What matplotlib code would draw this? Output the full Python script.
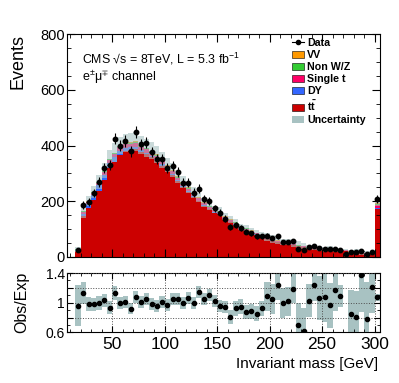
import numpy as np
import matplotlib
matplotlib.use("Agg")
import matplotlib.pyplot as plt
from matplotlib.patches import Patch
from matplotlib.lines import Line2D
from matplotlib.ticker import MultipleLocator, FixedLocator, FixedFormatter

plt.rcParams["font.family"] = ["Liberation Sans", "DejaVu Sans"]
plt.rcParams["mathtext.fontset"] = "custom"
plt.rcParams["mathtext.rm"] = "Liberation Sans"
plt.rcParams["mathtext.it"] = "Liberation Sans:italic"
plt.rcParams["mathtext.bf"] = "Liberation Sans:bold"
plt.rcParams["mathtext.default"] = "regular"

# 5 GeV bins from 15 to 305 GeV (last bin holds the overflow)
bin_edges = np.arange(15, 306, 5)

data = [26, 187, 197, 229, 269, 320, 329, 425, 399, 416,
        380, 449, 405, 410, 377, 352, 350, 321, 326, 304,
        267, 266, 231, 245, 207, 202, 175, 158, 138, 109,
        116, 103, 91, 85, 74, 74, 77, 68, 74, 55,
        55, 56, 30, 25, 37, 41, 32, 30, 28, 28,
        24, 12, 17, 17, 22, 11, 17, 207]

ttbar = [23, 146, 175, 205, 237, 276, 318, 342, 367, 379,
         383, 387, 376, 368, 359, 347, 328, 311, 294, 272,
         252, 234, 217, 200, 184, 171, 159, 156, 136, 125,
         116, 101, 96, 89, 80, 73, 64, 59, 54, 49,
         49, 42, 38, 36, 32, 29, 26, 25, 26, 21,
         19, 22, 17, 18, 14, 12, 12, 173]

dy = [2, 10, 15, 18, 20, 20, 19, 17, 15, 13,
      11, 9, 7, 6, 5, 4, 4, 3, 3, 3,
      2, 2, 2, 2, 2, 2, 1, 1, 1, 1,
      1, 1, 1, 1, 1, 1, 1, 1, 1, 1,
      0, 0, 0, 0, 0, 0, 0, 0, 0, 0,
      0, 0, 0, 0, 0, 0, 0, 2]

single_top = [1, 5, 6, 7, 8, 9, 10, 11, 12, 12,
              12, 13, 13, 12, 12, 12, 11, 11, 10, 10,
              9, 9, 8, 8, 7, 7, 7, 6, 6, 6,
              5, 5, 5, 4, 4, 4, 4, 3, 3, 3,
              3, 3, 3, 2, 2, 2, 2, 2, 2, 2,
              2, 2, 2, 2, 1, 1, 1, 12]

non_wz = [1, 3, 3, 3, 4, 4, 4, 4, 4, 4,
          4, 4, 4, 4, 4, 3, 3, 3, 3, 3,
          3, 3, 2, 2, 2, 2, 2, 2, 2, 2,
          2, 1, 1, 1, 1, 1, 1, 1, 1, 1,
          1, 1, 1, 1, 1, 1, 1, 0, 0, 0,
          0, 0, 0, 0, 0, 0, 0, 3]

diboson = [0, 1, 1, 1, 1, 1, 1, 1, 2, 2,
           2, 2, 2, 2, 2, 2, 2, 2, 2, 2,
           2, 2, 2, 2, 1, 1, 1, 1, 1, 1,
           1, 1, 1, 1, 1, 1, 1, 1, 1, 1,
           1, 1, 1, 1, 1, 1, 1, 1, 1, 1,
           1, 1, 1, 1, 1, 1, 1, 3]

# relative uncertainty on the expectation
rel_unc = [0.28, 0.15, 0.09, 0.09, 0.09, 0.09, 0.09, 0.09, 0.08, 0.08,
           0.08, 0.08, 0.08, 0.08, 0.08, 0.08, 0.08, 0.08, 0.08, 0.08,
           0.08, 0.08, 0.08, 0.08, 0.08, 0.08, 0.08, 0.08, 0.08, 0.10,
           0.10, 0.10, 0.10, 0.10, 0.10, 0.10, 0.20, 0.20, 0.20, 0.20,
           0.20, 0.20, 0.30, 0.30, 0.22, 0.22, 0.30, 0.33, 0.30, 0.28,
           0.15, 0.10, 0.32, 0.35, 0.50, 0.50, 0.35, 0.05]

colors = {"tt": "#cc0000", "DY": "#3366ff", "st": "#ff0066",
          "nwz": "#33cc33", "vv": "#ff9900", "unc": "#a8c2c2"}

centers = 0.5 * (bin_edges[:-1] + bin_edges[1:])
data = np.array(data, dtype=float)
rel_unc = np.array(rel_unc)

fig = plt.figure(figsize=(3.99, 3.83), dpi=100)
ax = fig.add_axes([0.168, 0.329, 0.784, 0.582])
rax = fig.add_axes([0.168, 0.132, 0.784, 0.155])

# stacked expectation
bottom = np.zeros(len(centers))
for vals, c in [(ttbar, colors["tt"]), (dy, colors["DY"]), (single_top, colors["st"]),
                (non_wz, colors["nwz"]), (diboson, colors["vv"])]:
    top = bottom + np.array(vals)
    ax.stairs(top, bin_edges, baseline=bottom, fill=True, color=c, lw=0)
    bottom = top
total = bottom

ax.stairs(total * (1 + rel_unc), bin_edges, baseline=total * (1 - rel_unc),
          fill=True, color=colors["unc"], alpha=0.6, lw=0)

ax.errorbar(centers, data, yerr=np.sqrt(data), xerr=2.0, fmt="o", color="k",
            ms=3.2, lw=0.8, capsize=0, zorder=5)

ax.set_xlim(7, 305)
ax.set_ylim(0, 800)
ax.xaxis.set_major_locator(MultipleLocator(50))
ax.xaxis.set_minor_locator(MultipleLocator(10))
ax.yaxis.set_major_locator(MultipleLocator(200))
ax.yaxis.set_minor_locator(MultipleLocator(50))
ax.tick_params(which="both", direction="in", top=True, right=True,
               labelbottom=False, labelsize=10.5, pad=1.5)
ax.tick_params(which="major", length=6)
ax.tick_params(which="minor", length=3)
ax.set_ylabel("Events", fontsize=13, loc="top")
ax.yaxis.set_label_coords(-0.13, 1.0)

ax.text(0.049, 0.888, r"CMS √s = 8TeV, L = 5.3 fb$^{-1}$", transform=ax.transAxes,
        fontsize=8.9, va="center")
ax.text(0.049, 0.807, r"e$^{\pm}$$\mu^{\mp}$ channel", transform=ax.transAxes,
        fontsize=9, va="center")

handles = [
    Line2D([], [], color="k", marker="o", ms=3, lw=0.8),
    Patch(facecolor=colors["vv"], edgecolor="k", lw=0.4),
    Patch(facecolor=colors["nwz"], edgecolor="k", lw=0.4),
    Patch(facecolor=colors["st"], edgecolor="k", lw=0.4),
    Patch(facecolor=colors["DY"], edgecolor="k", lw=0.4),
    Patch(facecolor=colors["tt"], edgecolor="k", lw=0.4),
    Patch(facecolor=colors["unc"], edgecolor="none"),
]
labels = ["Data", "VV", "Non W/Z", "Single t", "DY", r"$\mathbf{t\bar{t}}$", "Uncertainty"]
ax.legend(handles, labels, loc="upper left", bbox_to_anchor=(0.72, 0.983),
          frameon=False, prop={"size": 7.7, "weight": "bold"}, handlelength=1.1,
          handleheight=0.6, handletextpad=0.3, labelspacing=0.2,
          borderpad=0, borderaxespad=0)

# ratio panel
ratio = data / total
rax.stairs(ratio + rel_unc, bin_edges, baseline=ratio - rel_unc, fill=True,
           color=colors["unc"], lw=0)
rax.plot(centers, ratio, "o", color="k", ms=3, zorder=5)
rax.set_xlim(7, 305)
rax.set_ylim(0.6, 1.4)
rax.xaxis.set_major_locator(MultipleLocator(50))
rax.xaxis.set_minor_locator(MultipleLocator(10))
rax.yaxis.set_major_locator(FixedLocator([0.6, 0.8, 1.0, 1.2, 1.4]))
rax.yaxis.set_major_formatter(FixedFormatter(["0.6", "", "1", "", "1.4"]))
rax.yaxis.set_minor_locator(MultipleLocator(0.1))
rax.grid(True, which="major", linestyle=":", color="0.3", lw=0.7)
rax.set_axisbelow(False)
rax.tick_params(which="both", direction="in", top=True, right=True, pad=1.5)
rax.tick_params(axis="y", labelsize=10)
rax.tick_params(axis="x", labelsize=12.5, pad=3)
rax.tick_params(which="major", length=4)
rax.tick_params(which="minor", length=2)
rax.set_ylabel("Obs/Exp", fontsize=11.5)
rax.yaxis.set_label_coords(-0.12, 0.5)
rax.set_xlabel("Invariant mass [GeV]", fontsize=11, loc="right")
rax.xaxis.set_label_coords(0.995, -0.41)

fig.savefig("out.png", dpi=100)
